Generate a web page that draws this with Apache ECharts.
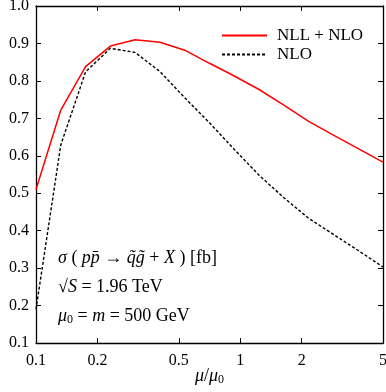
<!DOCTYPE html>
<html>
<head>
<meta charset="utf-8">
<script src="https://cdn.jsdelivr.net/npm/echarts@6/dist/echarts.min.js"></script>
<style>
  html, body { margin: 0; padding: 0; background: #fff; }
  #chart { width: 386px; height: 392px; }
</style>
</head>
<body>
<div id="chart"></div>
<script>
/* 数据：mu/mu0 取值，两条曲线 */
var muRatio = [0.1, 0.13224, 0.17487, 0.23125, 0.3058, 0.4044, 0.53478, 0.70718,
    0.93517, 1.2367, 1.6354, 2.1626, 2.8598, 3.7818, 5.0];
var nllNlo = [0.51, 0.722, 0.838, 0.893, 0.91, 0.903, 0.882, 0.847,
    0.813, 0.777, 0.735, 0.692, 0.655, 0.619, 0.583];
var nlo = [0.19, 0.629, 0.824, 0.887, 0.876, 0.825, 0.755, 0.688,
    0.617, 0.548, 0.488, 0.433, 0.39, 0.347, 0.303];
var xTicks = [0.1, 0.2, 0.5, 1, 2, 5];
var seriesNames = ['NLL + NLO', 'NLO'];

var FONT = 'Liberation Serif';

function pairs(xs, ys) {
    var arr = [];
    for (var i = 0; i < xs.length; i++) {
        arr.push([xs[i], ys[i]]);
    }
    return arr;
}

var italic = { fontStyle: 'italic', fontFamily: FONT, fontSize: 18, lineHeight: 20 };
var sub = { fontFamily: FONT, fontSize: 12, lineHeight: 12, verticalAlign: 'bottom' };

var chart = echarts.init(document.getElementById('chart'), null, { renderer: 'canvas' });

// x 轴公共设置（上下两条）
function xAxisCfg(pos, showLabel) {
    return {
        type: 'log',
        logBase: 10,
        min: 0.1,
        max: 5,
        position: pos,
        axisLine: { show: true, onZero: false, lineStyle: { color: '#000', width: 1.3 } },
        axisTick: { show: true, inside: true, length: 5, customValues: xTicks, lineStyle: { color: '#000' } },
        minorTick: { show: false },
        splitLine: { show: false },
        axisLabel: {
            show: showLabel,
            customValues: xTicks,
            margin: 10,
            color: '#000',
            fontFamily: FONT,
            fontSize: 16,
            formatter: function (v) { return String(Math.round(v * 10) / 10); }
        }
    };
}

function yAxisCfg(pos, showLabel) {
    return {
        type: 'value',
        min: 0.1,
        max: 1.0,
        interval: 0.1,
        position: pos,
        axisLine: { show: true, onZero: false, lineStyle: { color: '#000', width: 1.3 } },
        axisTick: { show: true, inside: true, length: 5, lineStyle: { color: '#000' } },
        splitLine: { show: false },
        axisLabel: {
            show: showLabel,
            margin: 7,
            color: '#000',
            fontFamily: FONT,
            fontSize: 16,
            formatter: function (v) { return v.toFixed(1); }
        }
    };
}

var xTop = xAxisCfg('top', false);
var xBottom = xAxisCfg('bottom', true);
xBottom.name = '{i|μ}/{i|μ}{s|0}';
xBottom.nameLocation = 'middle';
xBottom.nameGap = 23;
xBottom.nameMoveOverlap = false;
xBottom.nameTextStyle = { color: '#000', fontFamily: FONT, fontSize: 18, rich: { i: italic, s: sub } };

var option = {
    animation: false,
    backgroundColor: '#fff',
    grid: { left: 36, right: 3, top: 6, bottom: 49, containLabel: false, outerBoundsMode: 'none' },
    xAxis: [xBottom, xTop],
    yAxis: [yAxisCfg('left', true), yAxisCfg('right', false)],
    legend: {
        data: seriesNames,
        orient: 'vertical',
        left: 221,
        top: 27,
        padding: 0,
        itemWidth: 45,
        itemHeight: 12,
        itemGap: 2,
        itemStyle: { opacity: 0 },
        textStyle: { color: '#000', fontFamily: FONT, fontSize: 17, padding: [0, 0, 0, 5] }
    },
    series: [{
        name: seriesNames[0],
        type: 'line',
        data: pairs(muRatio, nllNlo),
        symbol: 'none',
        lineStyle: { color: '#ff0000', width: 1.5 },
        itemStyle: { color: '#ff0000' }
    }, {
        name: seriesNames[1],
        type: 'line',
        data: pairs(muRatio, nlo),
        symbol: 'none',
        lineStyle: { color: '#000', width: 1.4, type: [3, 2] },
        itemStyle: { color: '#000' }
    }],
    graphic: [{
        type: 'text', x: 58, y: 258,
        style: {
            text: '{i|σ} ( {i|p}{i|p\u0304} → {i|q\u0303}{i|g\u0303} + {i|X} ) [fb]',
            fontFamily: FONT, fontSize: 18, fill: '#000', verticalAlign: 'middle',
            rich: { i: italic }
        }
    }, {
        type: 'text', x: 58, y: 287,
        style: {
            text: '√{i|S} = 1.96 TeV',
            fontFamily: FONT, fontSize: 18, fill: '#000', verticalAlign: 'middle',
            rich: { i: italic }
        }
    }, {
        type: 'text', x: 58, y: 316,
        style: {
            text: '{i|μ}{s|0} = {i|m} = 500 GeV',
            fontFamily: FONT, fontSize: 18, fill: '#000', verticalAlign: 'middle',
            rich: { i: italic, s: sub }
        }
    }]
};

chart.setOption(option);
</script>
</body>
</html>
